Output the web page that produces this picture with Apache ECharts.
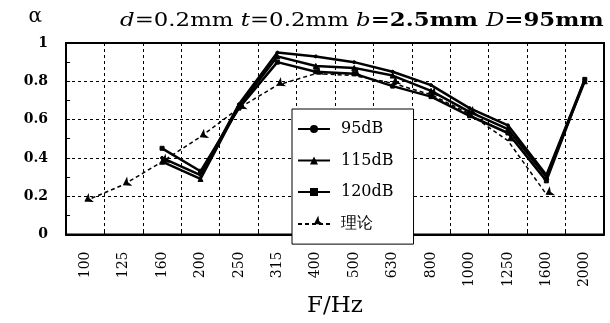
<!DOCTYPE html>
<html><head><meta charset="utf-8">
<script src="https://cdn.jsdelivr.net/npm/echarts@6/dist/echarts.min.js"></script>
<style>html,body{margin:0;padding:0;background:#fff}#c{width:610px;height:323px}</style>
</head><body><div id="c"></div>
<script>
var categories = ['100','125','160','200','250','315','400','500','630','800','1000','1250','1600','2000'];
var s95  = [null, null, 0.40, 0.31, 0.68, 0.95, 0.93, 0.90, 0.85, 0.78, 0.66, 0.57, 0.31, 0.81];
var s115 = [null, null, 0.38, 0.29, 0.67, 0.93, 0.88, 0.87, 0.83, 0.75, 0.64, 0.55, 0.30, 0.80];
var s120 = [null, null, 0.45, 0.33, 0.66, 0.90, 0.85, 0.84, 0.775, 0.72, 0.62, 0.53, 0.28, 0.81];
var theory = [0.175, 0.26, 0.38, 0.51, 0.66, 0.78, 0.84, 0.83, 0.79, 0.73, 0.63, 0.49, 0.21, null];
var seriesNames = ['95dB','115dB','120dB','理论'];
var yTicks = {min: 0, max: 1, interval: 0.2};

var serif = "'DejaVu Serif', 'Liberation Serif', serif";
var chart = echarts.init(document.getElementById('c'));
function lineSeries(name, data, symbol, size, dashed, extra) {
  var s = {
    name: name, type: 'line', data: data, symbol: symbol, symbolSize: size,
    showSymbol: true, connectNulls: false, z: dashed ? 3 : 2,
    lineStyle: {color: '#000', width: dashed ? 1.5 : 2.5, type: dashed ? [4, 3] : 'solid'},
    itemStyle: {color: '#000', borderColor: '#000'}
  };
  if (extra) for (var k in extra) s[k] = extra[k];
  return s;
}
chart.setOption({
  animation: false,
  backgroundColor: '#fff',
  grid: {left: 66, right: 6, top: 43, bottom: 75, show: true, borderColor: '#000', borderWidth: 2, backgroundColor: 'transparent'},
  graphic: [{
    type: 'text', x: 120, y: 12, scaleX: 1.27, z: 10,
    style: {
      text: '{i|d}{r|=0.2mm }{i|t}{r|=0.2mm }{ib|b}{b|=2.5mm }{ib|D}{b|=95mm}',
      fill: '#000', textVerticalAlign: 'top',
      rich: {
        i: {fontFamily: serif, fontStyle: 'italic', fontSize: 18, fill: '#000'},
        ib: {fontFamily: serif, fontStyle: 'italic', fontSize: 18, fill: '#000'},
        r: {fontFamily: serif, fontSize: 18, fill: '#000'},
        b: {fontFamily: serif, fontWeight: 'bold', fontSize: 18, fill: '#000'}
      }
    }
  }],
  legend: {
    data: seriesNames, orient: 'vertical', left: 292, top: 109,
    itemWidth: 32, itemHeight: 10, itemGap: 15.5,
    padding: [12, 20, 12, 5],
    backgroundColor: '#fff', borderColor: '#000', borderWidth: 1,
    selectedMode: false,
    textStyle: {fontFamily: serif, fontSize: 16, color: '#000', width: 72, padding: [0, 0, 0, 6]},
    z: 10
  },
  xAxis: {
    type: 'category', data: categories, boundaryGap: true,
    name: 'F/Hz', nameLocation: 'middle', nameGap: 62,
    nameTextStyle: {fontFamily: serif, fontSize: 23, color: '#000', verticalAlign: 'middle'},
    axisLine: {lineStyle: {color: '#000', width: 2}},
    axisTick: {show: true, inside: true, length: 5, lineStyle: {color: '#000'}},
    axisLabel: {rotate: 90, margin: 17, fontFamily: serif, fontSize: 14, color: '#000', interval: 0},
    splitLine: {show: true, interval: 0, lineStyle: {color: '#000', type: [3, 3], width: 1}}
  },
  yAxis: {
    type: 'value', min: yTicks.min, max: yTicks.max, interval: yTicks.interval,
    name: 'α', nameLocation: 'end', nameGap: 16,
    nameTextStyle: {fontFamily: serif, fontSize: 20, color: '#000', align: 'right', padding: [0, 24, 0, 0]},
    axisLine: {show: true, lineStyle: {color: '#000', width: 2}},
    axisTick: {show: true, inside: true, length: 4, lineStyle: {color: '#000'}},
    minorTick: {show: true, splitNumber: 2, length: 4, lineStyle: {color: '#000'}},
    axisLabel: {margin: 18, fontFamily: serif, fontWeight: 'bold', fontSize: 14, color: '#000'},
    splitLine: {show: true, lineStyle: {color: '#000', type: [3, 3], width: 1}}
  },
  series: [
    lineSeries('95dB', s95, 'circle', 3, false),
    lineSeries('115dB', s115, 'triangle', 5, false),
    lineSeries('120dB', s120, 'rect', 4, false),
    lineSeries('理论', theory, 'arrow', 6, true, {symbolRotate: 120})
  ]
});
</script></body></html>
